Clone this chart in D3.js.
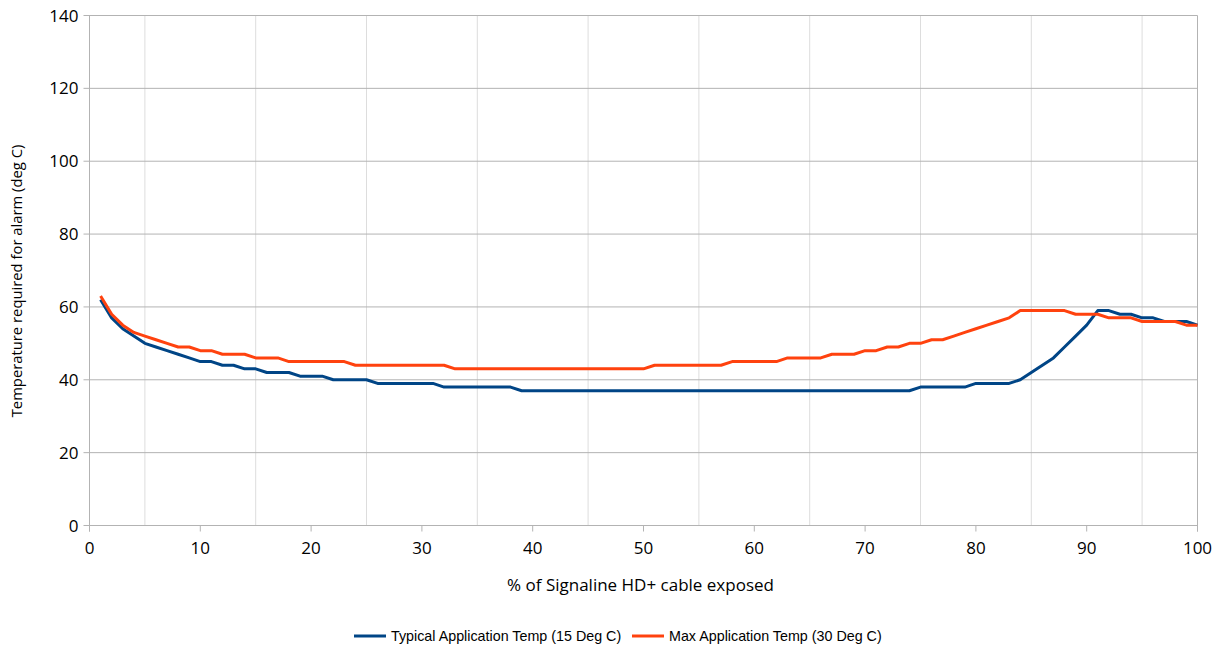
<!DOCTYPE html>
<html><head><meta charset="utf-8">
<script src="https://cdn.jsdelivr.net/npm/d3@7"></script>
<style>body{margin:0;background:#fff}svg{display:block}</style>
</head><body>
<svg id="c" width="1223" height="650"></svg>
<script>
const xValues = d3.range(1, 101);
const typicalTemp = [62,57,54,52,50,49,48,47,46,45, 45,44,44,43,43,42,42,42,41,41, 41,40,40,40,40,39,39,39,39,39, 39,38,38,38,38,38,38,38,37,37,
  37,37,37,37,37,37,37,37,37,37, 37,37,37,37,37,37,37,37,37,37, 37,37,37,37,37,37,37,37,37,37, 37,37,37,37,38,38,38,38,38,39,
  39,39,39,40,42,44,46,49,52,55, 59,59,58,58,57,57,56,56,56,55];
const maxTemp = [63,58,55,53,52,51,50,49,49,48, 48,47,47,47,46,46,46,45,45,45, 45,45,45,44,44,44,44,44,44,44, 44,44,43,43,43,43,43,43,43,43,
  43,43,43,43,43,43,43,43,43,43, 44,44,44,44,44,44,44,45,45,45, 45,45,46,46,46,46,47,47,47,48, 48,49,49,50,50,51,51,52,53,54,
  55,56,57,59,59,59,59,59,58,58, 58,57,57,57,56,56,56,56,55,55];
const yTicks = [0,20,40,60,80,100,120,140];
const xTicks = [0,10,20,30,40,50,60,70,80,90,100];
const xMinor = [5,15,25,35,45,55,65,75,85,95];
const seriesNames = ["Typical Application Temp (15 Deg C)", "Max Application Temp (30 Deg C)"];
const colors = ["#004586", "#ff420e"];

const svg = d3.select("#c");
const L = 89.5, R = 1197.5, T = 15.5, B = 525.5;
const x = d3.scaleLinear().domain([0,100]).range([L,R]);
const y = d3.scaleLinear().domain([0,140]).range([B,T]);

// minor vertical grid
svg.append("g").selectAll("line").data(xMinor).join("line")
  .attr("x1", d=>x(d)).attr("x2", d=>x(d)).attr("y1", T).attr("y2", B)
  .attr("stroke", "#dddddd").attr("stroke-width", 1);
// horizontal grid
svg.append("g").selectAll("line").data(yTicks).join("line")
  .attr("x1", L-6).attr("x2", R).attr("y1", d=>y(d)).attr("y2", d=>y(d))
  .attr("stroke", "#b3b3b3").attr("stroke-width", 1);
// right border
svg.append("line").attr("x1", R).attr("x2", R).attr("y1", T).attr("y2", B+6).attr("stroke", "#b3b3b3");
// left axis
svg.append("line").attr("x1", L).attr("x2", L).attr("y1", T).attr("y2", B+6).attr("stroke", "#b3b3b3");
// x ticks
svg.append("g").selectAll("line").data(xTicks).join("line")
  .attr("x1", d=>x(d)).attr("x2", d=>x(d)).attr("y1", B).attr("y2", B+6)
  .attr("stroke", "#b3b3b3");

const font = "'Open Sans', sans-serif";
svg.append("g").selectAll("text").data(yTicks).join("text")
  .attr("x", L-11).attr("y", d=>y(d)).attr("dy", "0.36em")
  .attr("text-anchor", "end").attr("font-family", font).attr("font-size", 17).attr("fill", "#000")
  .text(d=>d);
svg.append("g").selectAll("text").data(xTicks).join("text")
  .attr("x", d=>x(d)).attr("y", B+28)
  .attr("text-anchor", "middle").attr("font-family", font).attr("font-size", 17).attr("fill", "#000")
  .text(d=>d);

svg.append("text").attr("x", 640.5).attr("y", 591).attr("text-anchor", "middle")
  .attr("font-family", font).attr("font-size", 17).text("% of Signaline HD+ cable exposed");
svg.append("text").attr("transform", `translate(22,281) rotate(-90)`).attr("text-anchor", "middle")
  .attr("font-family", font).attr("font-size", 14.8).text("Temperature required for alarm (deg C)");

const line = d3.line().x((d,i)=>x(xValues[i])).y(d=>y(d));
[typicalTemp, maxTemp].forEach((s, k) => {
  svg.append("path").datum(s).attr("d", line).attr("fill", "none")
    .attr("stroke", colors[k]).attr("stroke-width", 3).attr("stroke-linejoin", "round");
});

// legend
const lg = svg.append("g").attr("font-family", "'Liberation Sans', Arial, sans-serif").attr("font-size", 14.3);
const items = [{x: 354, name: seriesNames[0], c: colors[0]}, {x: 632, name: seriesNames[1], c: colors[1]}];
items.forEach(it => {
  lg.append("line").attr("x1", it.x).attr("x2", it.x+32).attr("y1", 636).attr("y2", 636)
    .attr("stroke", it.c).attr("stroke-width", 3);
  lg.append("text").attr("x", it.x+37).attr("y", 636).attr("dy", "0.35em").text(it.name);
});
</script>
</body></html>
